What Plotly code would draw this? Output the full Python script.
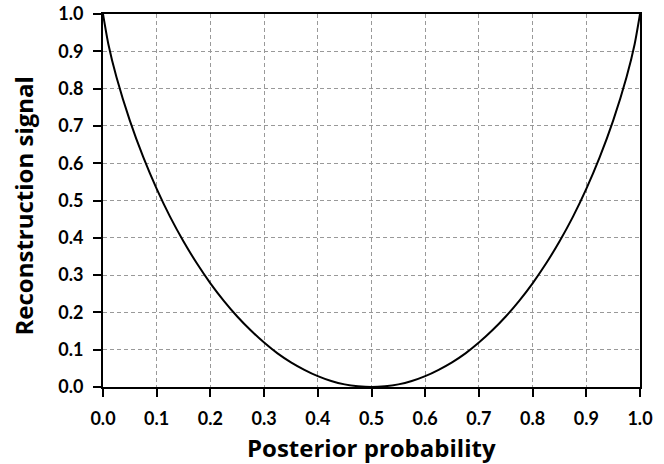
import plotly.graph_objects as go

# Posterior probability (x) and reconstruction signal (y)
posterior = [0.0, 0.01, 0.025, 0.05, 0.075, 0.1, 0.125, 0.15, 0.175, 0.2, 0.225, 0.25,
             0.275, 0.3, 0.325, 0.35, 0.375, 0.4, 0.425, 0.45, 0.475, 0.5,
             0.525, 0.55, 0.575, 0.6, 0.625, 0.65, 0.675, 0.7, 0.725, 0.75,
             0.775, 0.8, 0.825, 0.85, 0.875, 0.9, 0.925, 0.95, 0.975, 0.99, 1.0]
signal = [1.0, 0.919, 0.831, 0.714, 0.616, 0.531, 0.456, 0.390, 0.331, 0.278, 0.231, 0.189,
          0.152, 0.119, 0.090, 0.066, 0.046, 0.029, 0.016, 0.007, 0.002, 0.0,
          0.002, 0.007, 0.016, 0.029, 0.046, 0.066, 0.090, 0.119, 0.152, 0.189,
          0.231, 0.278, 0.331, 0.390, 0.456, 0.531, 0.616, 0.714, 0.831, 0.919, 1.0]

x_ticks = [0.0, 0.1, 0.2, 0.3, 0.4, 0.5, 0.6, 0.7, 0.8, 0.9, 1.0]
y_ticks = [0.0, 0.1, 0.2, 0.3, 0.4, 0.5, 0.6, 0.7, 0.8, 0.9, 1.0]
x_title = "Posterior probability"
y_title = "Reconstruction signal"

fig = go.Figure()
fig.add_trace(go.Scatter(x=posterior, y=signal, mode="lines",
                         line=dict(color="black", width=2, shape="spline", smoothing=0.6),
                         showlegend=False, hoverinfo="skip"))

tickfont = dict(family="Lato", size=18, color="black", weight="bold")
common = dict(showline=True, linecolor="black", linewidth=2, mirror=True,
              ticks="outside", ticklen=8, tickwidth=2, tickcolor="black",
              showgrid=True, gridcolor="#999999", gridwidth=1, griddash="4px,3px",
              zeroline=False, tickfont=tickfont, automargin=False)

fig.update_xaxes(range=[0, 1], tickvals=x_ticks,
                 ticktext=[f"<b>{v:.1f}</b>" for v in x_ticks], ticklabelstandoff=6, **common)
fig.update_yaxes(range=[0, 1], tickvals=y_ticks,
                 ticktext=[f"<b>{v:.1f}</b>" for v in y_ticks], ticklabelstandoff=6, **common)

title_font = dict(family="Open Sans", size=24, color="black", weight="bold")
fig.add_annotation(text=f"<b>{x_title}</b>", xref="paper", yref="paper", x=0.5, y=0,
                   yshift=-60, xanchor="center", yanchor="middle", showarrow=False, font=title_font)
fig.add_annotation(text=f"<b>{y_title}</b>", xref="paper", yref="paper", x=0, y=0.5,
                   xshift=-80, yshift=-6, xanchor="center", yanchor="middle", textangle=-90,
                   showarrow=False, font=title_font)

fig.update_layout(width=664, height=464, margin=dict(l=103, r=24, t=14, b=77),
                  plot_bgcolor="white", paper_bgcolor="white",
                  font=dict(family="Lato", color="black"))

fig.write_html("out.html", config={"displayModeBar": False},
               post_script="document.body.style.margin='0';")
